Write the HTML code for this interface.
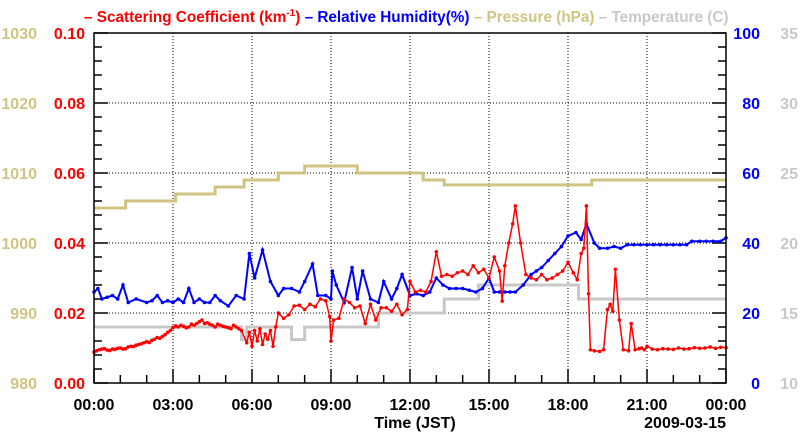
<!DOCTYPE html>
<html><head><meta charset="utf-8"><style>
body{margin:0;background:#fff}
svg{display:block;font-family:"Liberation Sans",sans-serif;font-weight:bold}
</style></head><body>
<svg id="c" width="800" height="434"></svg>
<script>
const xTicks=["00:00","03:00","06:00","09:00","12:00","15:00","18:00","21:00","00:00"];
const scatTicks=["0.00","0.02","0.04","0.06","0.08","0.10"];
const presTicks=["980","990","1000","1010","1020","1030"];
const rhTicks=["0","20","40","60","80","100"];
const tempTicks=["10","15","20","25","30","35"];
const scatT=[0,0.1,0.2,0.3,0.4,0.5,0.6,0.7,0.8,0.9,1,1.1,1.2,1.3,1.4,1.5,1.6,1.7,1.8,1.9,2,2.1,2.2,2.3,2.4,2.5,2.6,2.7,2.8,2.9,3,3.1,3.2,3.3,3.4,3.5,3.6,3.7,3.8,3.9,4,4.1,4.2,4.3,4.4,4.5,4.6,4.7,4.8,4.9,5,5.1,5.2,5.3,5.4,5.5,5.6,5.8,5.9,6,6.1,6.2,6.3,6.4,6.5,6.6,6.7,6.8,6.9,7,7.2,7.4,7.6,7.8,8,8.2,8.4,8.6,8.8,8.95,9,9.1,9.3,9.5,9.7,9.9,10.1,10.3,10.5,10.7,10.9,11.1,11.3,11.5,11.7,11.9,12,12.2,12.4,12.6,12.8,13,13.2,13.4,13.6,13.8,14,14.2,14.4,14.6,14.8,15,15.2,15.4,15.5,15.6,15.75,15.9,16,16.2,16.4,16.6,16.8,17,17.2,17.4,17.6,17.8,18,18.2,18.35,18.5,18.6,18.7,18.78,18.85,19,19.2,19.35,19.5,19.6,19.7,19.8,19.95,20.1,20.3,20.4,20.55,20.7,20.8,20.9,21,21.2,21.4,21.6,21.8,22,22.2,22.4,22.6,22.8,23,23.2,23.4,23.6,23.8,24];
const scatV=[0.0088,0.0092,0.0095,0.0097,0.0098,0.0094,0.0093,0.0097,0.0096,0.0099,0.0100,0.0097,0.0098,0.0103,0.0105,0.0104,0.0108,0.0110,0.0112,0.0115,0.0118,0.0116,0.0122,0.0125,0.0130,0.0128,0.0133,0.0138,0.0145,0.0150,0.0158,0.0163,0.0160,0.0165,0.0162,0.0158,0.0160,0.0168,0.0165,0.0170,0.0175,0.0180,0.0170,0.0172,0.0168,0.0165,0.0160,0.0168,0.0165,0.0162,0.0160,0.0158,0.0155,0.0165,0.0160,0.0155,0.0150,0.0115,0.0145,0.0105,0.0150,0.0120,0.0155,0.0110,0.0140,0.0125,0.0150,0.0105,0.0160,0.0200,0.0185,0.0195,0.0220,0.0222,0.0210,0.0225,0.0218,0.0240,0.0235,0.0190,0.0120,0.0180,0.0185,0.0240,0.0230,0.0215,0.0220,0.0170,0.0225,0.0180,0.0215,0.0215,0.0205,0.0225,0.0195,0.0210,0.0290,0.0260,0.0265,0.0260,0.0290,0.0375,0.0305,0.0310,0.0305,0.0315,0.0320,0.0310,0.0335,0.0315,0.0325,0.0300,0.0360,0.0320,0.0234,0.0335,0.0400,0.0455,0.0506,0.0400,0.0310,0.0300,0.0295,0.0310,0.0295,0.0300,0.0310,0.0320,0.0345,0.0315,0.0295,0.0370,0.0385,0.0506,0.0255,0.0095,0.0092,0.0090,0.0095,0.0210,0.0225,0.0205,0.0325,0.0180,0.0095,0.0092,0.0170,0.0095,0.0098,0.0100,0.0095,0.0105,0.0097,0.0095,0.0098,0.0097,0.0096,0.0100,0.0097,0.0098,0.0101,0.0099,0.0100,0.0103,0.0099,0.0102,0.0101,0.0100];
const rhT=[0,0.15,0.3,0.5,0.7,0.9,1.1,1.3,1.6,2,2.2,2.4,2.6,2.8,3.0,3.2,3.4,3.6,3.8,4,4.2,4.4,4.6,4.8,5.1,5.4,5.7,5.9,6.1,6.4,6.7,7,7.2,7.5,7.8,8,8.3,8.5,8.8,9,9.05,9.2,9.5,9.8,10,10.2,10.5,10.8,11,11.3,11.5,11.7,12,12.25,12.5,12.75,13,13.25,13.5,13.75,14,14.25,14.5,14.75,15,15.2,15.4,15.6,15.8,16,16.3,16.6,16.8,17,17.25,17.5,17.75,18,18.3,18.5,18.7,19,19.2,19.5,19.75,20,20.25,20.5,20.75,21,21.25,21.5,21.75,22,22.25,22.5,22.7,23,23.25,23.5,23.8,24];
const rhV=[26,27,24,24.5,25,24,28,23,24,23,23.5,25,23,23.5,23,24,23,27,23,24,23,23,25,23.5,22,25,24,37,30,38,29,25,27,27,26,29,34,25,25,24,32,28,23,33,24,32,24,23,29,24,27,31,25,25.5,25,26,30,28,27,27,27,26.5,26,27,30,26,26,26,26,26,28,31,32,33,35,37,39,42,43,41,45.5,40,38.5,38.5,39,38.5,39.5,39.5,39.5,39.5,39.5,39.5,39.5,39.5,39.5,39.5,40.5,40.5,40.5,40.5,40.5,41.5];
const presT=[0,1.2,3.1,4.6,5.7,7.0,8.0,10.0,12.5,13.3,18.9,24];
const presV=[1005,1006,1007,1008,1009,1010,1011,1010,1009,1008.3,1009,1009];
const tempT=[0,5.6,5.8,7.5,8.0,10.8,13.3,14.6,18.4,24];
const tempV=[14,13.1,14,13.1,14,15,16,17,16,16];

const L=94,R=726,T=33,B=383;
const sx=h=>L+h/24*(R-L);
const sy=(v,lo,hi)=>B-(v-lo)/(hi-lo)*(B-T);
const NS="http://www.w3.org/2000/svg";
const svg=document.getElementById('c');
function mk(t,a,p){const e=document.createElementNS(NS,t);for(const k in a)e.setAttribute(k,a[k]);(p||svg).appendChild(e);return e;}
function txt(s,x,y,fill,anchor,size){const e=mk('text',{x:x,y:y,fill:fill,'text-anchor':anchor||'start','font-size':size||16});e.textContent=s;return e;}

const grid=mk('g',{});
for(let i=1;i<8;i++)mk('line',{x1:sx(i*3),x2:sx(i*3),y1:T,y2:B,stroke:'#000','stroke-width':1,'stroke-dasharray':'1,2'},grid);
for(let i=1;i<5;i++){const y=sy(i*0.02,0,0.1);mk('line',{x1:L,x2:R,y1:y,y2:y,stroke:'#000','stroke-width':1,'stroke-dasharray':'1,2'},grid);}
for(let i=0;i<=25;i++){const y=B-i*(B-T)/25;const maj=i%5==0;mk('line',{x1:L,x2:L+(maj?14:8),y1:y,y2:y,stroke:'#000','stroke-width':1.5});mk('line',{x1:R,x2:R-(maj?14:8),y1:y,y2:y,stroke:'#000','stroke-width':1.5});}
for(let i=0;i<=24;i++){const x=sx(i);const maj=i%3==0;mk('line',{x1:x,x2:x,y1:B,y2:B-(maj?14:8),stroke:'#000','stroke-width':1.5});}

function line(ts,vs,lo,hi,color,w,step,dots,name){
  let d='';
  ts.forEach((t,i)=>{const x=sx(t),y=sy(vs[i],lo,hi);
    if(i==0)d+='M'+x+','+y;
    else if(step)d+='H'+x+'V'+y;
    else d+='L'+x+','+y;});
  const p=mk('path',{d:d,fill:'none',stroke:color,'stroke-width':w});
  
  
  if(dots)ts.forEach((t,i)=>{const c=mk('circle',{cx:sx(t),cy:sy(vs[i],lo,hi),r:1.8,fill:color});
    
    });
}
line(presT,presV,980,1030,'#d0c483',3,true,false,'pressure-line');
line(tempT,tempV,10,35,'#c8c8c8',3,true,false,'temperature-line');
line(rhT,rhV,0,100,'#0000ff',2,false,true,'humidity-line');
line(scatT,scatV,0,0.1,'#ff0000',1.5,false,true,'scattering-line');

mk('rect',{x:L,y:T,width:R-L,height:B-T,fill:'none',stroke:'#000','stroke-width':1.5,});

for(let i=0;i<6;i++){const y=sy(i,0,5)+6;
  txt(scatTicks[i],85,y,'#ff0000','end');
  txt(presTicks[i],37,y,'#d0c483','end');
  txt(rhTicks[i],760,y,'#0000ff','end');
  txt(tempTicks[i],798,y,'#c8c8c8','end');}
xTicks.forEach((s,i)=>{txt(s,sx(i*3),410,'#000','middle');});
txt('Time (JST)',415,428,'#000','middle');
txt('2009-03-15',R,428,'#000','end');

const lg=mk('text',{x:84,y:22,'font-size':15.3,});
function sp(s,c,extra){const e=mk('tspan',Object.assign({fill:c},extra||{}),lg);e.textContent=s;return e;}
sp('– Scattering Coefficient (km','#ff0000');
sp('-1','#ff0000',{'font-size':10,dy:-6});
sp(')','#ff0000',{dy:6});
sp(' – Relative Humidity(%)','#0000ff');
sp(' – Pressure (hPa)','#d0c483');
sp(' – Temperature (C)','#c8c8c8');
</script>
</body></html>
